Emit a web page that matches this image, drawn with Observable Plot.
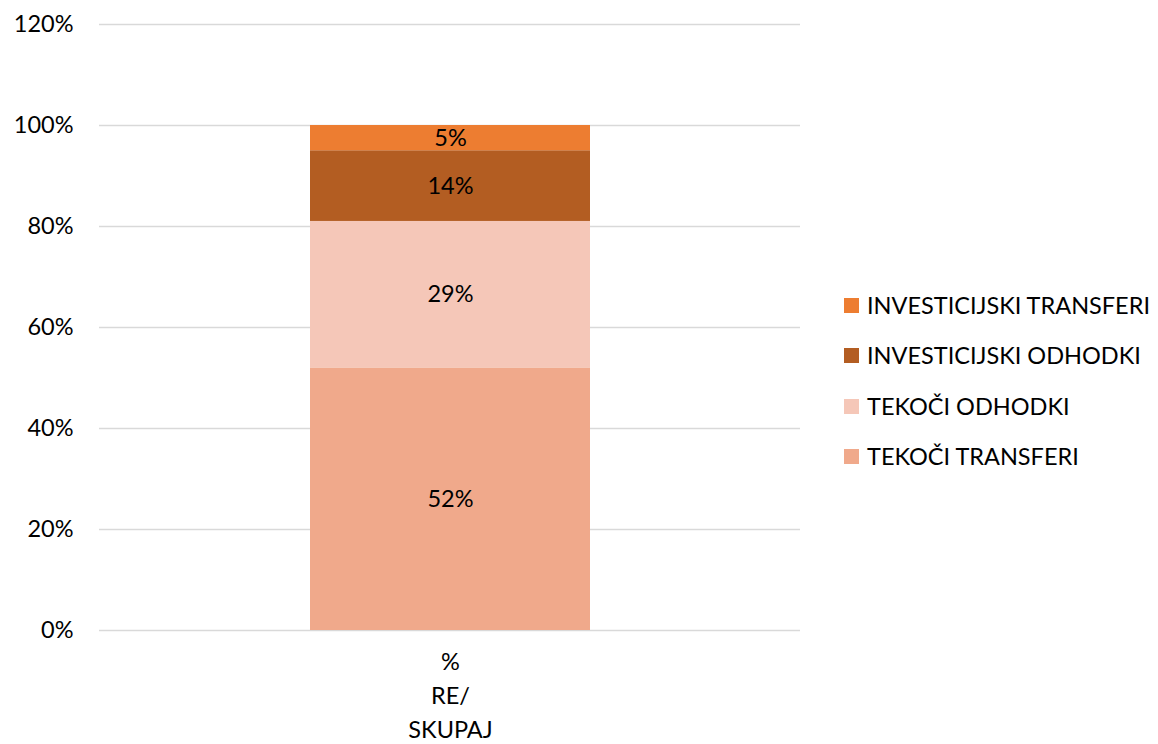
<!DOCTYPE html>
<html>
<head>
<meta charset="utf-8">
<script src="https://cdn.jsdelivr.net/npm/d3@7"></script>
<script src="https://cdn.jsdelivr.net/npm/@observablehq/plot@0.6"></script>
<style>
  html, body { margin: 0; padding: 0; background: #fff; }
  #wrap { position: relative; width: 1158px; height: 744px; font-family: Lato, "Open Sans", sans-serif; }
  #legend { position: absolute; left: 844px; top: 0; }
  .item { position: absolute; left: 0; white-space: nowrap; font-size: 23.5px; color: #000; display: flex; align-items: center; height: 28px; }
  .sw { width: 15px; height: 15px; margin-right: 8px; display: inline-block; }
</style>
</head>
<body>
<div id="wrap"><div id="legend"></div></div>
<script>
const categories = ["%\nRE/\nSKUPAJ"];
const series = ["TEKOČI TRANSFERI", "TEKOČI ODHODKI", "INVESTICIJSKI ODHODKI", "INVESTICIJSKI TRANSFERI"];
const values = [0.52, 0.29, 0.14, 0.05];
const colors = ["#F0A98B", "#F5C7B8", "#B35D22", "#ED7D31"];
const legendOrder = ["INVESTICIJSKI TRANSFERI", "INVESTICIJSKI ODHODKI", "TEKOČI ODHODKI", "TEKOČI TRANSFERI"];
const yTicks = [0, 0.2, 0.4, 0.6, 0.8, 1.0, 1.2];

const data = series.map((s, i) => ({cat: categories[0], series: s, value: values[i]}));

const FS = 23.5;
const chart = Plot.plot({
  width: 1158,
  height: 744,
  marginLeft: 99,
  marginRight: 358,
  marginTop: 24,
  marginBottom: 114,
  style: {fontFamily: "Lato, 'Open Sans', sans-serif", fontSize: FS + "px", background: "#fff"},
  x: {domain: categories, padding: 0.429, label: null},
  y: {domain: [0, 1.2], label: null},
  color: {domain: series, range: colors},
  marks: [
    Plot.ruleY(yTicks, {stroke: "#d9d9d9", strokeWidth: 1.5}),
    Plot.axisY({ticks: yTicks, tickSize: 0, tickPadding: 26, tickFormat: d => Math.round(d * 100) + "%", fontSize: FS, fill: "#000", label: null}),
    Plot.axisX({tickSize: 0, tickPadding: 15, fontSize: FS, fill: "#000", lineHeight: 1.45, label: null}),
    Plot.barY(data, Plot.stackY({x: "cat", y: "value", z: "series", fill: "series", order: series})),
    Plot.text(data, Plot.stackY({x: "cat", y: "value", z: "series", order: series, fill: "#000", text: d => Math.round(d.value * 100) + "%", fontSize: FS}))
  ]
});
document.getElementById("wrap").prepend(chart);
chart.style.position = "absolute";
chart.style.left = "0";
chart.style.top = "0";

const legend = document.getElementById("legend");
const legendY = [305, 355, 406, 456];
legendOrder.forEach((s, i) => {
  const div = document.createElement("div");
  div.className = "item";
  div.style.top = (legendY[i] - 14) + "px";
  const sw = document.createElement("span");
  sw.className = "sw";
  sw.style.background = colors[series.indexOf(s)];
  div.appendChild(sw);
  div.appendChild(document.createTextNode(s));
  legend.appendChild(div);
});
</script>
</body>
</html>
